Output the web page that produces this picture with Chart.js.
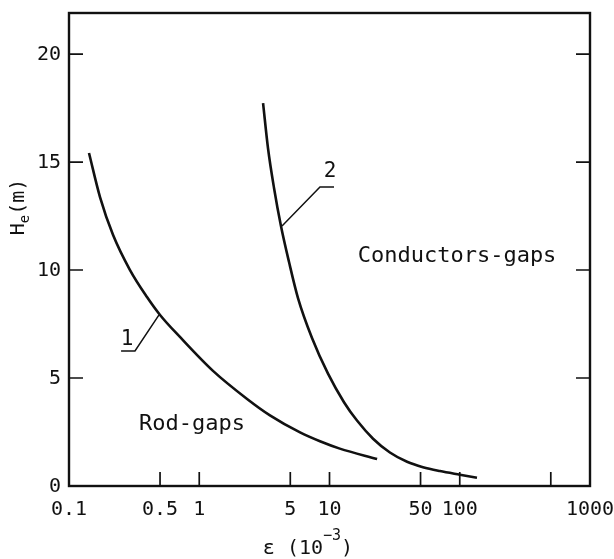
<!DOCTYPE html>
<html>
<head>
<meta charset="utf-8">
<script src="https://cdn.jsdelivr.net/npm/chart.js@4.4.0/dist/chart.umd.min.js"></script>
<style>
  html, body { margin: 0; padding: 0; background: #fff; }
  #wrap { width: 614px; height: 559px; }
</style>
</head>
<body>
<div id="wrap"><canvas id="graph" width="614" height="559"></canvas></div>
<script>
// curve 1: rod gaps
const rodGapsX = [0.1424, 0.173, 0.218, 0.294, 0.397, 0.50, 0.711, 1.275, 2.33, 3.49, 5.94, 8.45, 12.0, 23.2];
const rodGapsY = [15.42, 13.38, 11.62, 10.0, 8.75, 7.92, 6.90, 5.33, 4.03, 3.27, 2.48, 2.07, 1.73, 1.25];
// curve 2: conductors gaps
const condGapsX = [3.09, 3.37, 3.75, 4.24, 4.89, 5.73, 7.34, 9.74, 12.92, 16.26, 21.6, 29.1, 39.4, 52.2, 70.5, 100.4, 135.6];
const condGapsY = [17.73, 15.65, 13.80, 12.04, 10.37, 8.70, 6.85, 5.20, 3.88, 3.03, 2.19, 1.55, 1.12, 0.87, 0.69, 0.52, 0.38];

const xTicks = [0.1, 0.5, 1, 5, 10, 50, 100, 500, 1000];
const xTickLabels = ["0.1", "0.5", "1", "5", "10", "50", "100", "", "1000"];
const yTicks = [0, 5, 10, 15, 20];

// region names, in data units
const regionNames = [
  {text: "Conductors-gaps", x: 95.3, y: 10.65},
  {text: "Rod-gaps", x: 0.88, y: 2.87}
];
// curve numbers with their leader lines
const curveTags = [
  {text: "1", x: 0.279, y: 6.76, path: [[0.251, 6.25], [0.321, 6.25], [0.491, 7.92]]},
  {text: "2", x: 10.1, y: 14.54, path: [[10.83, 13.84], [8.45, 13.84], [4.32, 12.04]]}
];

const FONT = "'DejaVu Sans Mono', monospace";
const INK = "#111";

const toPoints = (xs, ys) => xs.map((x, i) => ({x: x, y: ys[i]}));

function plotText(ctx, text, x, y, size, align) {
  ctx.font = size + "px " + FONT;
  ctx.textAlign = align || "center";
  ctx.textBaseline = "middle";
  ctx.fillText(text, x, y);
}

function textWidth(ctx, text, size) {
  ctx.font = size + "px " + FONT;
  return ctx.measureText(text).width;
}

const frameAndNotes = {
  id: "frameAndNotes",
  afterDraw(chart) {
    const {ctx, chartArea: a} = chart;
    const sx = chart.scales.x, sy = chart.scales.y;
    ctx.save();
    ctx.strokeStyle = INK;
    ctx.fillStyle = INK;

    // box
    ctx.lineWidth = 2.4;
    ctx.strokeRect(a.left, a.top, a.right - a.left, a.bottom - a.top);

    // inward ticks
    ctx.lineWidth = 1.7;
    ctx.beginPath();
    xTicks.forEach(v => {
      if (v <= sx.min || v >= sx.max) return;
      const px = sx.getPixelForValue(v);
      ctx.moveTo(px, a.bottom);
      ctx.lineTo(px, a.bottom - 14);
    });
    yTicks.forEach(v => {
      if (v <= sy.min) return;
      const py = sy.getPixelForValue(v);
      ctx.moveTo(a.left, py);
      ctx.lineTo(a.left + 14, py);
      ctx.moveTo(a.right, py);
      ctx.lineTo(a.right - 14, py);
    });
    ctx.stroke();

    // tick labels
    xTicks.forEach((v, i) => {
      plotText(ctx, xTickLabels[i], sx.getPixelForValue(v), a.bottom + 24, 20, "center");
    });
    yTicks.forEach(v => {
      plotText(ctx, String(v), a.left - 8, sy.getPixelForValue(v) + 1, 20, "right");
    });

    // curve numbers
    ctx.lineWidth = 1.5;
    curveTags.forEach(t => {
      ctx.beginPath();
      t.path.forEach((p, i) => {
        const px = sx.getPixelForValue(p[0]), py = sy.getPixelForValue(p[1]);
        if (i === 0) ctx.moveTo(px, py); else ctx.lineTo(px, py);
      });
      ctx.stroke();
      plotText(ctx, t.text, sx.getPixelForValue(t.x), sy.getPixelForValue(t.y), 21, "center");
    });

    regionNames.forEach(t => {
      plotText(ctx, t.text, sx.getPixelForValue(t.x), sy.getPixelForValue(t.y), 22, "center");
    });

    // y title: H_e(m), rotated
    ctx.save();
    ctx.translate(19, 207);
    ctx.rotate(-Math.PI / 2);
    const wH = textWidth(ctx, "H", 20);
    const wE = textWidth(ctx, "e", 14);
    const wM = textWidth(ctx, "(m)", 20);
    const x0 = -(wH + wE + wM) / 2;
    plotText(ctx, "H", x0, 0, 20, "left");
    plotText(ctx, "e", x0 + wH, 6, 14, "left");
    plotText(ctx, "(m)", x0 + wH + wE, 0, 20, "left");
    ctx.restore();

    // x title: ε (10^-3)
    const base = "\u03b5 (10";
    const wB = textWidth(ctx, base, 20);
    const wS = textWidth(ctx, "\u22123", 15);
    const wC = textWidth(ctx, ")", 20);
    const tx = 308 - (wB + wS + wC) / 2;
    plotText(ctx, base, tx, 549, 20, "left");
    plotText(ctx, "\u22123", tx + wB, 536, 15, "left");
    plotText(ctx, ")", tx + wB + wS, 549, 20, "left");

    ctx.restore();
  }
};

new Chart(document.getElementById("graph"), {
  type: "scatter",
  data: {
    datasets: [
      {
        label: "1",
        data: toPoints(rodGapsX, rodGapsY),
        showLine: true,
        borderColor: INK,
        borderWidth: 2.6,
        pointRadius: 0,
        cubicInterpolationMode: "monotone"
      },
      {
        label: "2",
        data: toPoints(condGapsX, condGapsY),
        showLine: true,
        borderColor: INK,
        borderWidth: 2.6,
        pointRadius: 0,
        cubicInterpolationMode: "monotone"
      }
    ]
  },
  options: {
    responsive: false,
    animation: false,
    events: [],
    layout: {padding: {top: 13, right: 24, left: 0, bottom: 0}},
    plugins: {legend: {display: false}, tooltip: {enabled: false}},
    scales: {
      x: {
        type: "logarithmic",
        min: 0.1,
        max: 1000,
        afterBuildTicks: s => { s.ticks = xTicks.map(v => ({value: v})); },
        afterFit: s => { s.height = 73; s.paddingLeft = 0; s.paddingRight = 0; },
        grid: {display: false, drawTicks: false},
        border: {display: false},
        ticks: {display: false}
      },
      y: {
        type: "linear",
        min: 0,
        max: 21.9,
        afterBuildTicks: s => { s.ticks = yTicks.map(v => ({value: v})); },
        afterFit: s => { s.width = 69; s.paddingTop = 0; s.paddingBottom = 0; },
        grid: {display: false, drawTicks: false},
        border: {display: false},
        ticks: {display: false}
      }
    }
  },
  plugins: [frameAndNotes]
});
</script>
</body>
</html>
